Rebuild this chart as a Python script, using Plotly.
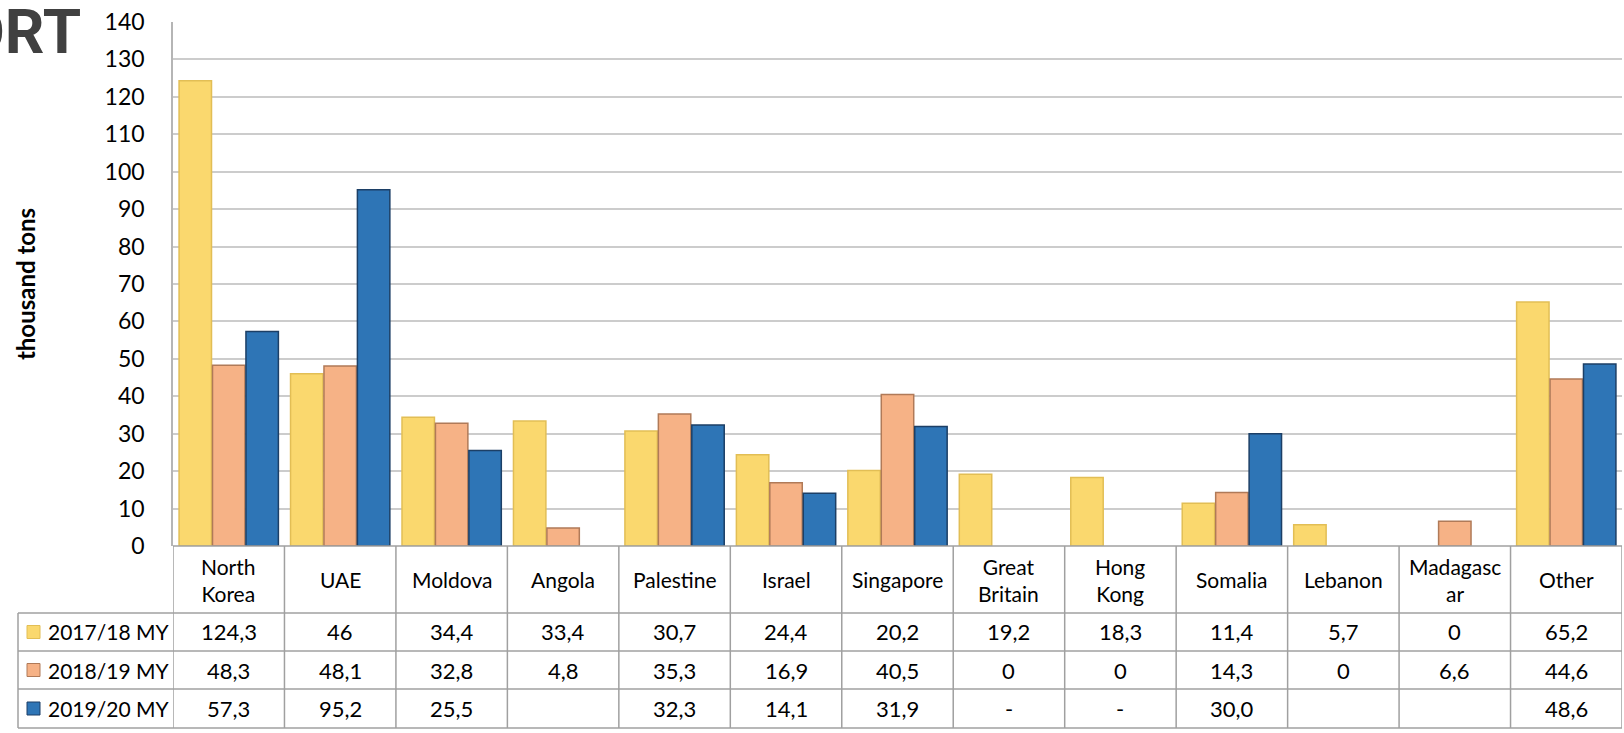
import plotly.graph_objects as go

categories = ["North<br>Korea", "UAE", "Moldova", "Angola", "Palestine", "Israel",
              "Singapore", "Great<br>Britain", "Hong<br>Kong", "Somalia", "Lebanon",
              "Madagasc<br>ar", "Other"]
series_names = ["2017/18 MY", "2018/19 MY", "2019/20 MY"]
v2017 = [124.3, 46, 34.4, 33.4, 30.7, 24.4, 20.2, 19.2, 18.3, 11.4, 5.7, 0, 65.2]
v2018 = [48.3, 48.1, 32.8, 4.8, 35.3, 16.9, 40.5, 0, 0, 14.3, 0, 6.6, 44.6]
v2019 = [57.3, 95.2, 25.5, None, 32.3, 14.1, 31.9, None, None, 30.0, None, None, 48.6]
t2017 = ["124,3", "46", "34,4", "33,4", "30,7", "24,4", "20,2", "19,2", "18,3", "11,4", "5,7", "0", "65,2"]
t2018 = ["48,3", "48,1", "32,8", "4,8", "35,3", "16,9", "40,5", "0", "0", "14,3", "0", "6,6", "44,6"]
t2019 = ["57,3", "95,2", "25,5", "", "32,3", "14,1", "31,9", "-", "-", "30,0", "", "", "48,6"]
y_ticks = list(range(0, 141, 10))

W, H = 1624, 733
L, R, T, B = 173, 2, 22, 187
PW, PH = W - L - R, H - T - B

def px_x(x):
    return (x - L) / PW

def px_y(y):
    return (H - B - y) / PH

fills = ["#FAD86E", "#F6B286", "#2E75B6"]
edges = ["#E2BE55", "#B07A58", "#1C3F66"]
values = [v2017, v2018, v2019]
texts = [t2017, t2018, t2019]

fig = go.Figure()
xs = list(range(len(categories)))
for name, vals, fc, ec in zip(series_names, values, fills, edges):
    lw = [1.5 if (v is not None and v > 0) else 0 for v in vals]
    fig.add_trace(go.Bar(x=xs, y=vals, name=name, marker=dict(color=fc, line=dict(color=ec, width=lw)),
                         showlegend=False, hoverinfo="skip"))

font = "Lato, 'Open Sans', sans-serif"
grid_c = "#CCCCCC"
tbl_c = "#A0A0A0"

fig.update_layout(
    width=W, height=H,
    margin=dict(l=L, r=R, t=T, b=B),
    paper_bgcolor="white", plot_bgcolor="white",
    barmode="group", bargap=0.1, bargroupgap=0.03,
    font=dict(family=font, color="black"),
    xaxis=dict(range=[-0.5, len(categories) - 0.5], showticklabels=False, showgrid=False,
               zeroline=False, showline=False, ticks=""),
    yaxis=dict(range=[0, 140], tickvals=y_ticks, ticktext=[str(v) for v in y_ticks],
               showgrid=True, gridcolor=grid_c, gridwidth=1.8, zeroline=False,
               showline=True, linecolor="#B5B5B5", linewidth=1.5,
               ticks="", tickfont=dict(size=23, family=font), ticklabelstandoff=22,
               title=dict(text="<b>thousand tons</b>", font=dict(size=24, family=font), standoff=62)),
)

shapes = []
ann = []
y_axis0 = px_y(546)
row_y = [px_y(613), px_y(651), px_y(689), px_y(728)]
shapes.append(dict(type="line", xref="paper", yref="paper", x0=0, x1=1, y0=y_axis0, y1=y_axis0,
                   line=dict(color=tbl_c, width=1.5)))
for ry in row_y:
    shapes.append(dict(type="line", xref="paper", yref="paper", x0=px_x(18), x1=1, y0=ry, y1=ry,
                       line=dict(color=tbl_c, width=1.5)))
for i in range(len(categories) + 1):
    shapes.append(dict(type="line", xref="x", yref="paper", x0=i - 0.5, x1=i - 0.5,
                       y0=y_axis0, y1=row_y[-1], line=dict(color=tbl_c, width=1.5)))
shapes.append(dict(type="line", xref="paper", yref="paper", x0=px_x(18), x1=px_x(18),
                   y0=row_y[0], y1=row_y[-1], line=dict(color=tbl_c, width=1.5)))

for i, c in enumerate(categories):
    ann.append(dict(x=i, y=(y_axis0 + row_y[0]) / 2, xref="x", yref="paper", text=c, showarrow=False,
                    font=dict(size=21, family=font), xanchor="center", yanchor="middle"))
row_centers = [(row_y[0] + row_y[1]) / 2, (row_y[1] + row_y[2]) / 2, (row_y[2] + row_y[3]) / 2]
for r, (name, tl, fc, ec) in enumerate(zip(series_names, texts, fills, edges)):
    yc = row_centers[r]
    for i, t in enumerate(tl):
        if t:
            ann.append(dict(x=i, y=yc, xref="x", yref="paper", text=t, showarrow=False,
                            font=dict(size=22, family=font), xanchor="center", yanchor="middle"))
    ann.append(dict(x=px_x(46), y=yc, xref="paper", yref="paper", text=name, showarrow=False,
                    font=dict(size=21, family=font), xanchor="left", yanchor="middle"))
    hs = 6.5 / PH
    shapes.append(dict(type="rect", xref="paper", yref="paper", x0=px_x(27), x1=px_x(40),
                       y0=yc - hs, y1=yc + hs, fillcolor=fc, line=dict(color=ec, width=1)))

ann.append(dict(x=px_x(83), y=px_y(31), xref="paper", yref="paper", text="<b>ORT</b>", showarrow=False,
                font=dict(size=62, family="Roboto, sans-serif", color="#404040"), xanchor="right", yanchor="middle"))

fig.update_layout(shapes=shapes, annotations=ann)
fig.write_html("out.html")
